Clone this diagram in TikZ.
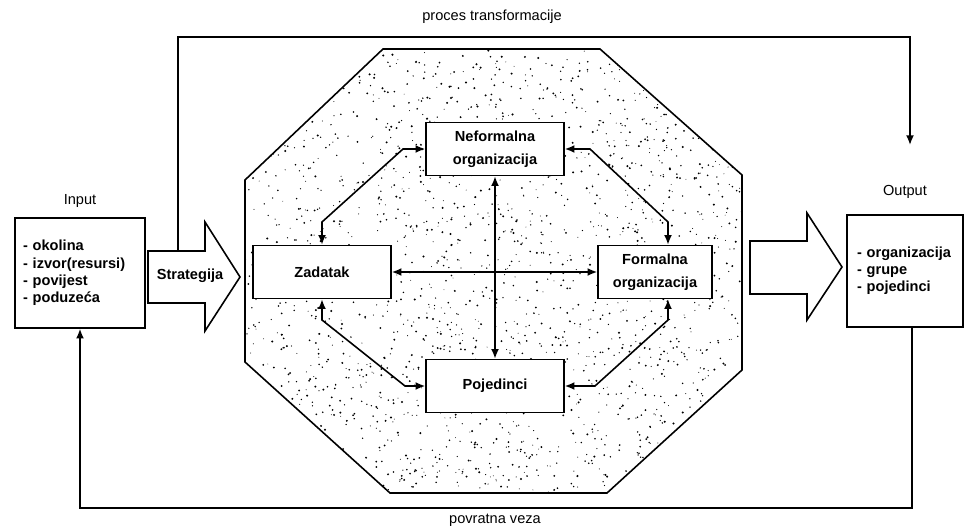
\documentclass[tikz,border=0pt]{standalone}
\usepackage{fontspec}
\setmainfont{Liberation Sans}
\usetikzlibrary{arrows.meta}
\begin{document}
\begin{tikzpicture}[>={Latex[length=5.5pt,width=4.5pt]}, x=0.02cm, y=-0.02cm, line width=0.9pt,
  box/.style={draw, fill=white, minimum width=2.76cm, minimum height=1.06cm, align=center, font=\fontsize{8.3}{13}\selectfont\bfseries},
  lista/.style={draw, fill=white, align=left, font=\fontsize{8.3}{9.8}\selectfont\bfseries},
  oznaka/.style={font=\fontsize{8.3}{10}\selectfont}]
\useasboundingbox (0,0) rectangle (966,526);

\begin{scope}
\clip (245,180) -- (383,49) -- (600,49) -- (742,175) -- (742,370) -- (607,493) -- (390,493) -- (245,362) -- cycle;
\pgfmathsetseed{12}
\foreach \i in {1,...,2200}
  \fill (245+497*rnd, 49+444*rnd) circle[radius={(0.25+0.4*rnd)*1pt}];
\end{scope}
\draw (245,180) -- (383,49) -- (600,49) -- (742,175) -- (742,370) -- (607,493) -- (390,493) -- (245,362) -- cycle;

\node[box] (neformalna) at (495,149) {Neformalna\\organizacija};
\node[box] (zadatak) at (322,272) {Zadatak};
\node[box, minimum width=2.28cm] (formalna) at (655,272) {Formalna\\organizacija};
\node[box] (pojedinci) at (495,386) {Pojedinci};

\node[lista, text width=2.28cm, minimum height=2.2cm, inner xsep=0.16cm] (input) at (80,273) {- okolina\\- izvor(resursi)\\- povijest\\- poduzeća};
\node[lista, text width=1.92cm, minimum height=2.24cm, inner xsep=0.2cm] (output) at (905,271) {- organizacija\\- grupe\\- pojedinci};

\node[oznaka] (inputlabel) at (80,201) {Input};
\node[oznaka] (outputlabel) at (905,192) {Output};
\node[oznaka] (proces) at (492,17) {proces transformacije};
\node[oznaka, anchor=north, inner sep=1pt] (povratna) at (495,512) {povratna veza};

\draw (148,251) -- (205,251) -- (205,222) -- (240,277) -- (205,331) -- (205,303) -- (148,303) -- cycle;
\node[font=\fontsize{8.3}{10}\selectfont\bfseries] (strategija) at (190,276) {Strategija};
\draw (750,241) -- (807,241) -- (807,213) -- (842,267) -- (807,320) -- (807,294) -- (750,294) -- cycle;

\coordinate (strtop) at (178,251);
\coordinate (outtop) at (910,145);
\draw[->] (strtop) -- (178,37) -- (910,37) -- (outtop);
\draw[->] ([xshift=0.14cm]output.south) -- (912,508) -- (80,508) -- (input.south);

\draw[<->] (zadatak.north) -- (322,222) -- (403,149) -- (neformalna.west);
\draw[<->] (neformalna.east) -- (590,149) -- (668,222) -- ([xshift=0.26cm]formalna.north);
\draw[<->] (zadatak.south) -- (322,320) -- (405,386) -- (pojedinci.west);
\draw[<->] ([xshift=0.26cm]formalna.south) -- (668,320) -- (595,386) -- (pojedinci.east);
\draw[<->] (neformalna.south) -- (pojedinci.north);
\draw[<->] (zadatak.east) -- (formalna.west);
\end{tikzpicture}
\end{document}
